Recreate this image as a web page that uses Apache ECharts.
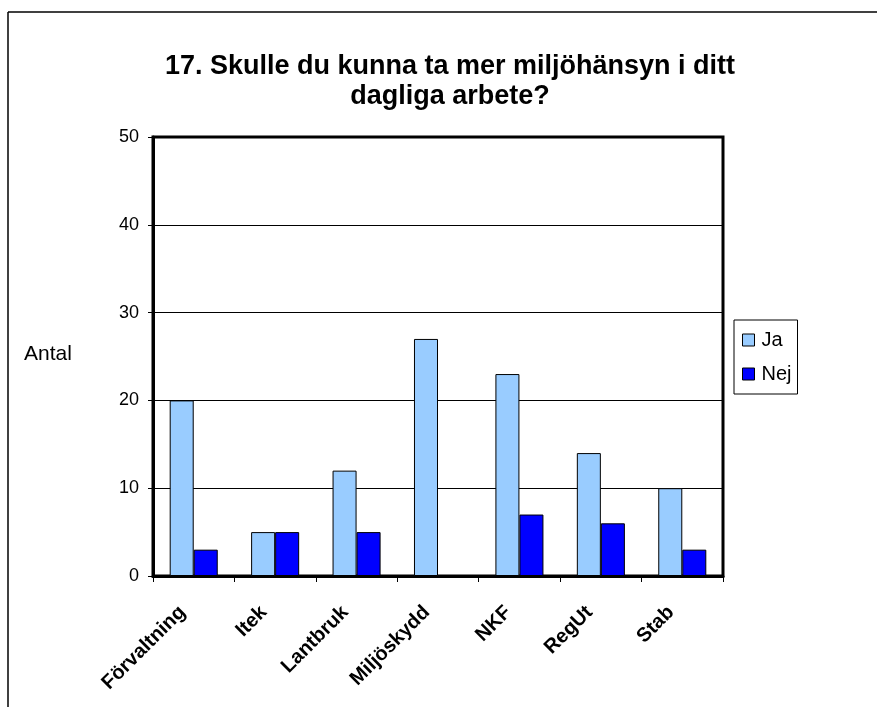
<!DOCTYPE html>
<html>
<head>
<meta charset="utf-8">
<script src="https://cdn.jsdelivr.net/npm/echarts@6/dist/echarts.min.js"></script>
<style>
  html, body { margin: 0; padding: 0; background: #fff; }
  #chart { width: 877px; height: 707px; }
</style>
</head>
<body>
<div id="chart"></div>
<script>
// avdelningar och svar
const categories = ['Förvaltning', 'Itek', 'Lantbruk', 'Miljöskydd', 'NKF', 'RegUt', 'Stab']
const jaValues = [20, 5, 12, 27, 23, 14, 10]
const nejValues = [3, 5, 5, 0, 7, 6, 3]
const yTicks = { min: 0, max: 50, interval: 10 }

const font = 'Liberation Sans, Arial, sans-serif'
const chart = echarts.init(document.getElementById('chart'))

chart.setOption({
  animation: false,
  textStyle: { fontFamily: font, color: '#000' },
  title: {
    text: '17. Skulle du kunna ta mer miljöhänsyn i ditt\ndagliga arbete?',
    left: 445,
    top: 47,
    textAlign: 'center',
    textStyle: { fontSize: 27, fontWeight: 'bold', lineHeight: 30, fontFamily: font, color: '#000' }
  },
  legend: {
    orient: 'vertical',
    left: 734,
    top: 320,
    padding: [10, 6, 10, 8],
    itemGap: 14,
    itemWidth: 12,
    itemHeight: 12,
    borderColor: '#000',
    borderWidth: 1,
    icon: 'rect',
    textStyle: { fontSize: 20, fontFamily: font, color: '#000', padding: [0, 0, 0, 2] },
    data: [
      { name: 'Ja', itemStyle: { borderColor: '#000', borderWidth: 1 } },
      { name: 'Nej', itemStyle: { borderColor: '#000', borderWidth: 1 } }
    ]
  },
  grid: {
    left: 153,
    right: 154,
    top: 137,
    bottom: 131,
    show: true,
    borderColor: '#000',
    borderWidth: 3
  },
  xAxis: {
    type: 'category',
    data: categories,
    axisLine: { lineStyle: { color: '#000', width: 3 } },
    axisTick: { show: true, length: 6, lineStyle: { color: '#000', width: 1 } },
    axisLabel: {
      rotate: 45,
      interval: 0,
      margin: 22,
      padding: [0, 16, 0, 0],
      fontSize: 20,
      fontWeight: 'bold',
      fontFamily: font,
      color: '#000'
    }
  },
  yAxis: {
    type: 'value',
    min: yTicks.min,
    max: yTicks.max,
    interval: yTicks.interval,
    axisLine: { show: true, lineStyle: { color: '#000', width: 3 } },
    axisTick: { show: true, length: 5, lineStyle: { color: '#000', width: 1 } },
    axisLabel: { fontSize: 18, margin: 14, fontFamily: font, color: '#000' },
    splitLine: { lineStyle: { color: '#000', width: 1 } }
  },
  graphic: [
    { type: 'line', shape: { x1: 8, y1: 12, x2: 877, y2: 12 }, style: { stroke: '#000', lineWidth: 1.5 } },
    { type: 'line', shape: { x1: 8, y1: 12, x2: 8, y2: 707 }, style: { stroke: '#000', lineWidth: 1.5 } },
    { type: 'text', left: 24, top: 344, style: { text: 'Antal', fontSize: 21, fontFamily: font, fill: '#000' } }
  ],
  series: [
    {
      name: 'Ja',
      type: 'bar',
      data: jaValues,
      barGap: '0%',
      barCategoryGap: '41%',
      itemStyle: { color: '#99ccff', borderColor: '#000', borderWidth: 1 }
    },
    {
      name: 'Nej',
      type: 'bar',
      data: nejValues,
      itemStyle: { color: '#0000ff', borderColor: '#000', borderWidth: 1 }
    }
  ]
})
</script>
</body>
</html>
